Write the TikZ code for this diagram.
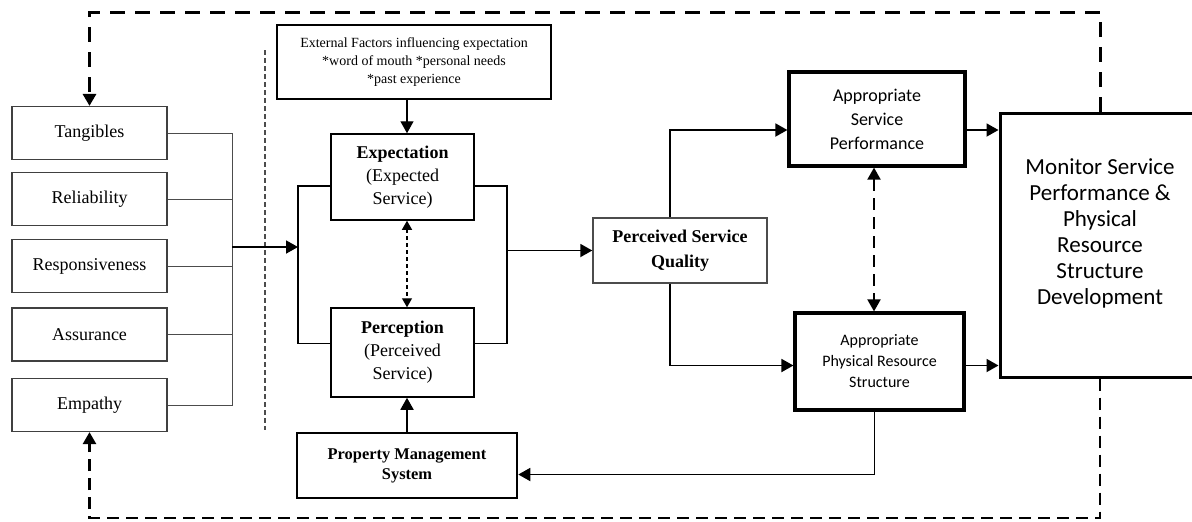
\documentclass[tikz,border=0pt]{standalone}
\usepackage{fontspec}
\setmainfont{Liberation Serif}
\newfontfamily\calibri{Carlito}
\usetikzlibrary{arrows.meta, calc}

\begin{document}
\begin{tikzpicture}[x=0.5pt, y=-0.5pt,
	dim/.style={rectangle, draw=black!75, line width=0.6pt, minimum width=77.5pt, minimum height=26.5pt, font=\fontsize{9}{11}\selectfont},
	blk/.style={rectangle, draw, align=center, inner sep=1pt},
	arr/.style={-{Triangle[length=6pt, width=6.5pt]}, line width=0.9pt},
	link/.style={draw=black!70, line width=0.5pt},
	looptop/.style={dash pattern=on 7.5pt off 5pt, line width=1.5pt, -{Triangle[length=6pt, width=6.5pt]}},
	loopbot/.style={dash pattern=on 6pt off 3.5pt, line width=1.3pt, -{Triangle[length=6pt, width=6.5pt]}},
	sepline/.style={draw=black!70, dash pattern=on 2.5pt off 1.5pt, line width=0.6pt},
	]
	
	\useasboundingbox (0,0) rectangle (1192,521);
	
	\node[dim] (tang) at (89.5,133) {Tangibles};
	\node[dim] (reli) at (89.5,199) {Reliability};
	\node[dim] (resp) at (89.5,266) {Responsiveness};
	\node[dim] (assu) at (89.5,334.5) {Assurance};
	\node[dim] (empa) at (89.5,405) {Empathy};
	
	\node[blk, line width=1.2pt, minimum width=137pt, minimum height=37pt, font=\fontsize{7}{9.2}\selectfont] (ext) at (414,62) {External Factors influencing expectation\\{*}word of mouth {*}personal needs\\{*}past experience};
	\node[blk, line width=0.75pt, minimum width=71.5pt, minimum height=43pt, font=\fontsize{9}{11.5}\selectfont] (exp) at (402.5,177) {\textbf{Expectation}\\(Expected\\Service)};
	\node[blk, line width=0.75pt, minimum width=71.5pt, minimum height=44.5pt, font=\fontsize{9}{11.5}\selectfont] (perc) at (402.5,352.5) {\textbf{Perception}\\(Perceived\\Service)};
	\node[blk, line width=1.3pt, minimum width=110pt, minimum height=32.5pt, font=\bfseries\fontsize{8.2}{10}\selectfont] (pms) at (407,465.5) {Property Management\\System};
	\node[blk, draw=black!70, line width=0.7pt, minimum width=87pt, minimum height=32.5pt, font=\bfseries\fontsize{9}{12.5}\selectfont] (psq) at (680,250.5) {Perceived Service\\Quality};
	\node[blk, line width=1.6pt, minimum width=88pt, minimum height=47pt, font=\calibri\fontsize{9}{12}\selectfont] (asp) at (877,119) {Appropriate\\Service\\Performance};
	\node[blk, line width=1.6pt, minimum width=84.5pt, minimum height=48.5pt, font=\calibri\fontsize{8}{10.5}\selectfont] (aprs) at (879.5,361.5) {Appropriate\\Physical Resource\\Structure};
	\node[blk, line width=1.5pt, minimum width=100pt, minimum height=132pt, font=\calibri\fontsize{11.5}{13}\selectfont] (mon) at (1100,245) {Monitor Service\\Performance \&\\Physical\\Resource\\Structure\\Development\\~};
	
	\coordinate (bus) at (232,247);
	\coordinate (brL) at (298,247);
	\coordinate (brR) at (507,0);
	\coordinate (loopT) at (0,12);
	\coordinate (loopB) at (0,518);
	
	\draw[sepline] (265,50) -- (265,430);
	
	\foreach \n in {tang,reli,resp,assu,empa}
		\draw[link] (\n.east) -| (bus);
	\draw[arr] (bus) -- (brL);
	\draw[line width=0.7pt] ([yshift=-4.5pt]exp.west) -| (brL) |- ([yshift=4.5pt]perc.west);
	\draw[line width=0.7pt] ([yshift=-4.5pt]exp.east) -| (brR |- psq.west) |- ([yshift=4.5pt]perc.east);
	\draw[arr] (brR |- psq.west) -- (psq.west);
	
	\draw[arr, line width=0.7pt] (ext.south -| pms.north) -- (exp.north -| pms.north);
	\draw[{Triangle[length=4.5pt, width=5pt]}-{Triangle[length=4.5pt, width=5pt]}, dash pattern=on 2pt off 1.5pt, line width=0.6pt] (exp.south -| pms.north) -- (perc.north -| pms.north);
	\draw[arr] (pms.north) -- (pms.north |- perc.south);
	
	\draw[arr] ([xshift=-5pt]psq.north) |- ([yshift=-5.5pt]asp.west);
	\draw[arr] ([xshift=-5pt]psq.south) |- ([yshift=-2pt]aprs.west);
	\draw[arr] ([yshift=-5.5pt]asp.east) -- ([yshift=-5.5pt]asp.east -| mon.west);
	\draw[arr] ([yshift=-2pt]aprs.east) -- ([yshift=-2pt]aprs.east -| mon.west);
	\draw[{Triangle[length=6pt, width=6.5pt]}-{Triangle[length=6pt, width=6.5pt]}, dash pattern=on 6pt off 3.5pt, line width=1pt] ([xshift=-1.5pt]asp.south) -- ([xshift=-1.5pt]asp.south |- aprs.north);
	\draw[arr] ([xshift=-2.5pt]aprs.south) |- ([yshift=-4.5pt]pms.east);
	
	\draw[looptop] (mon.north) |- (tang.north |- loopT) -- (tang.north);
	\draw[loopbot] (mon.south) |- (empa.south |- loopB) -- (empa.south);
\end{tikzpicture}
\end{document}
